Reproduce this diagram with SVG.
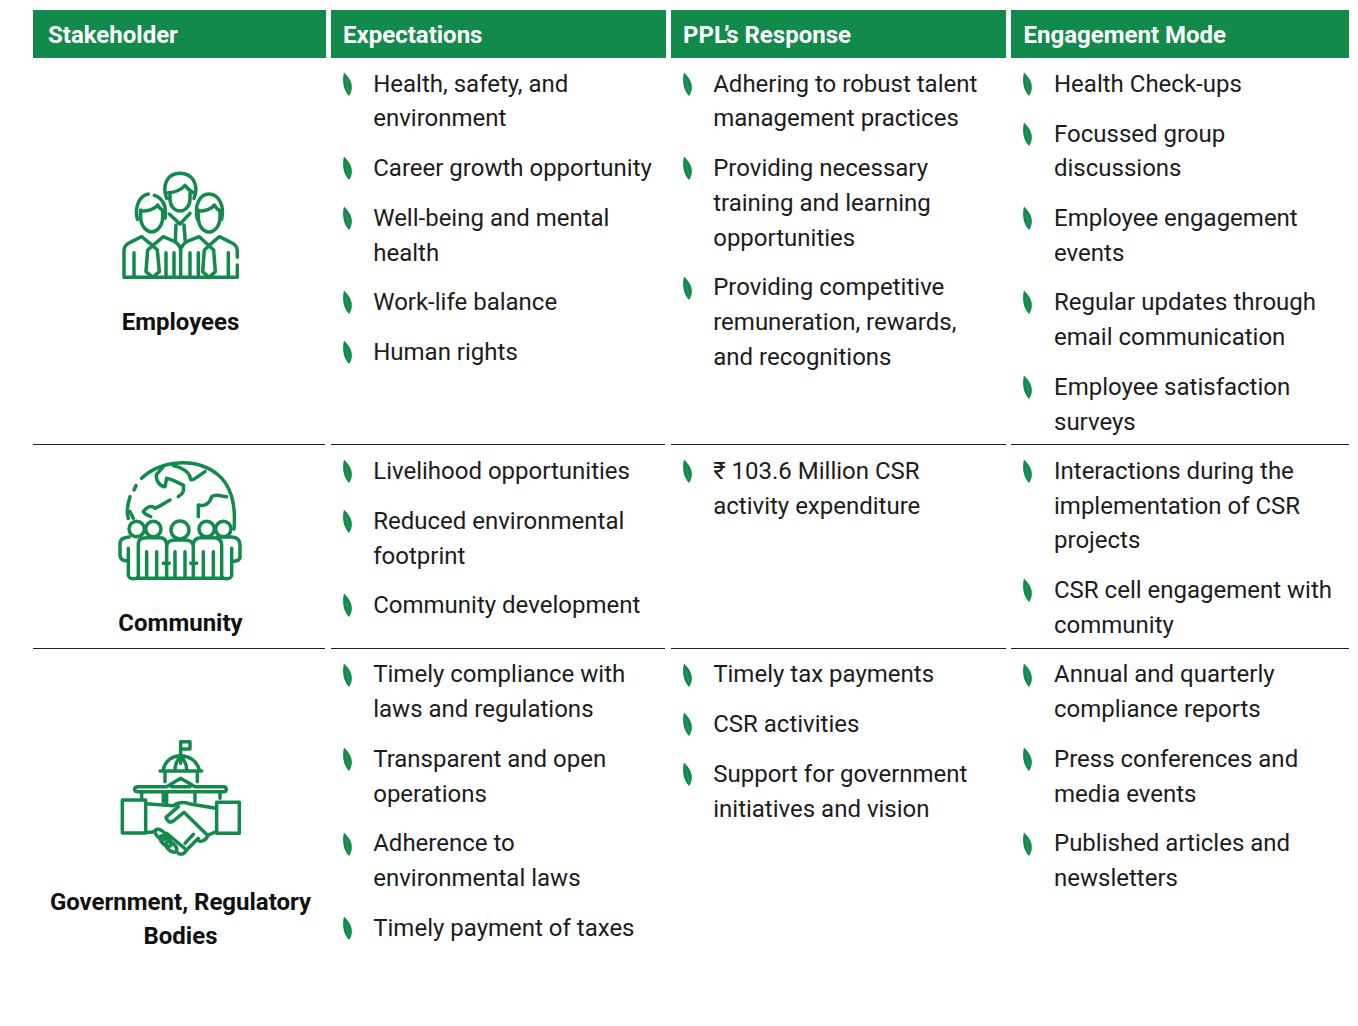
<svg xmlns="http://www.w3.org/2000/svg" width="1358" height="1026" viewBox="0 0 1358 1026">
<style>
text{font-family:Roboto,"Liberation Sans",sans-serif}
.h{font-size:24px;font-weight:700;fill:#fff}
.t{font-size:24px;fill:#1c1c1c}
.b{font-size:24px;font-weight:700;fill:#111;text-anchor:middle}
.hb{fill:#128a4b}
.r{stroke:#222;stroke-width:1.2}
.i{fill:none;stroke:#128a4b;stroke-width:10.500;stroke-linecap:round;stroke-linejoin:round}
</style>
<defs>
<g id="leaf"><path d="M-4-11.500C-6-4-5 6 1 12 5 6 6-2-4-11.500Z" fill="#128a4b"/><path d="M-2-5L1 8" stroke="#3fa673" stroke-width=".6" fill="none"/></g>
</defs>
<rect width="1358" height="1026" fill="#fff"/>
<g id="header">
<rect class="hb" x="33" y="10" width="293" height="48"/><text class="h" x="48" y="43">Stakeholder</text>
<rect class="hb" x="331" y="10" width="335" height="48"/><text class="h" x="343" y="43">Expectations</text>
<rect class="hb" x="671" y="10" width="335" height="48"/><text class="h" x="683" y="43">PPL<tspan dx="-3">’</tspan><tspan dx="-1">s</tspan> Response</text>
<rect class="hb" x="1011" y="10" width="338" height="48"/><text class="h" x="1023.500" y="43">Engagement Mode</text>
</g>
<g id="rules">
<path class="r" d="M33 444.500H325M331 444.500H665M671 444.500H1006M1011 444.500H1349M33 648.500H325M331 648.500H665M671 648.500H1006M1011 648.500H1349"/>
</g>
<g id="employees">
<g transform="translate(110 160) scale(.3333)">
<path class="i" d="M170 115C155 75 172 40 210 40S268 75 252 115M175 98C195 98 215 88 225 76 232 86 240 94 250 98M180 100V118C180 140 195 153 210 153S240 140 240 118V100"/>
<path class="i" d="M178 162L210 192 240 160M198 195L196 245M222 195L226 245"/>
<path class="i" d="M82 178C72 135 92 106 115 102M133 106C155 113 172 135 165 175M92 152C115 155 135 147 143 135 148 145 155 150 160 152M92 150V172C92 198 110 216 125 216S158 198 158 172V152"/>
<path class="i" d="M262 178C252 135 270 102 297 102S345 135 335 178M265 152C285 155 305 147 313 135 318 145 325 150 330 152M265 150V172C265 198 280 216 297 216S330 198 330 172V152"/>
<path class="i" d="M42 352V272C42 258 52 250 65 245L95 230 128 257 160 230 190 243C205 250 212 260 212 275V352M212 275C212 260 220 250 235 243L268 230 297 257 328 230 358 245C372 250 382 258 382 272V292M382 315V352M42 352H382"/>
<path class="i" d="M72 352V278M168 352V278M192 352V278M240 352V278M265 352V278M355 352V278"/>
<path class="i" d="M128 257L113 270 108 335 128 352 148 335 142 270ZM297 257L283 270 278 335 297 352 316 335 311 270Z"/>
</g>
<text class="b" x="180.500" y="330">Employees</text>
</g>
<g id="community">
<g transform="translate(110 455) scale(.3333)">
<path class="i" d="M55 190C50 175 52 150 60 125M72 105L78 92M95 70C150 15 260 5 325 60 365 95 378 150 372 222"/>
<path class="i" d="M190 32C215 38 235 50 240 65 240 85 255 70 285 50M160 35L140 58C135 75 150 95 165 95L170 70C195 75 205 85 220 90 222 110 220 115 205 125M180 135C165 142 150 155 135 160 125 150 110 155 100 170 105 180 115 180 122 185"/>
<path class="i" d="M265 185V150C285 155 300 145 305 125 320 115 335 125 350 125M60 170L70 190"/>
<circle class="i" cx="80" cy="222" r="23"/><circle class="i" cx="130" cy="222" r="23"/><circle class="i" cx="210" cy="225" r="27"/><circle class="i" cx="290" cy="222" r="23"/><circle class="i" cx="340" cy="222" r="23"/>
<path class="i" d="M55 318C40 318 30 312 30 300V265C30 252 42 247 58 246M85 370V265C85 252 98 248 110 248H150C165 248 170 258 170 272V370M170 275C170 262 180 255 195 255H225C240 255 250 262 250 275V370M250 270C250 255 258 248 275 248H310C325 248 335 255 335 270V370M322 246H365C380 247 390 255 390 270V305C390 315 380 320 365 318M55 280V360C55 375 85 375 85 360M110 290V370M140 290V370M195 290V370M225 290V370M280 290V370M310 290V370M365 280V360C365 375 335 375 335 360M85 370H165M175 370H245M255 370H335M160 325H178M242 325H260"/>
</g>
<text class="b" x="180.500" y="631">Community</text>
</g>
<g id="government">
<g transform="translate(110 735) scale(.3333)">
<path class="i" d="M212 85V20H240V42H212"/>
<path class="i" d="M150 108H275M160 105C165 75 190 62 212 62S260 75 268 105M195 105C195 85 205 70 212 65 220 72 230 85 230 105M165 108V140M262 108V140"/>
<path class="i" d="M170 155L212 130 255 155H340C352 155 352 170 340 170H85C70 170 70 155 85 155H170M170 170V205M255 170V200M95 170V190M330 170V190M185 155H240M160 175V200"/>
<path class="i" d="M37 195H107V294H37ZM320 202H388V295H320Z"/>
<path class="i" d="M107 206L190 212M245 208L318 220M190 212C205 200 225 200 245 208M205 215L168 247C172 260 180 265 190 258L222 232 294 302C285 320 270 322 262 315M265 310L235 340M250 298L225 325M230 345C222 358 215 360 205 355M107 292H125L140 285M295 300L320 290"/>
<ellipse class="i" cx="152" cy="298" rx="20" ry="11" transform="rotate(40 152 298)"/>
<ellipse class="i" cx="167" cy="318" rx="20" ry="11" transform="rotate(40 167 318)"/>
<ellipse class="i" cx="184" cy="336" rx="20" ry="11" transform="rotate(40 184 336)"/>
<path class="i" d="M170 295L230 345"/>
</g>
<text class="b" x="180.500" y="910">Government, Regulatory</text>
<text class="b" x="180.500" y="944">Bodies</text>
</g>
<g id="col-expectations">
<use href="#leaf" x="348" y="84"/><use href="#leaf" x="348" y="168"/><use href="#leaf" x="348" y="218"/><use href="#leaf" x="348" y="302"/><use href="#leaf" x="348" y="352"/>
<use href="#leaf" x="348" y="471"/><use href="#leaf" x="348" y="521"/><use href="#leaf" x="348" y="605"/>
<use href="#leaf" x="348" y="675"/><use href="#leaf" x="348" y="759"/><use href="#leaf" x="348" y="844"/><use href="#leaf" x="348" y="928"/>
<g transform="translate(-.8 -.8)">
<text class="t" x="374" y="92.500">Health, safety, and</text>
<text class="t" x="374" y="126.500">environment</text>
<text class="t" x="374" y="176.500">Career growth opportunity</text>
<text class="t" x="374" y="226.500">Well-being and mental</text>
<text class="t" x="374" y="261.500">health</text>
<text class="t" x="374" y="310.500">Work-life balance</text>
<text class="t" x="374" y="360.500">Human rights</text>
<text class="t" x="374" y="479.500">Livelihood opportunities</text>
<text class="t" x="374" y="529.500">Reduced environmental</text>
<text class="t" x="374" y="564.500">footprint</text>
<text class="t" x="374" y="613.500">Community development</text>
<text class="t" x="374" y="682.500">Timely compliance with</text>
<text class="t" x="374" y="717.500">laws and regulations</text>
<text class="t" x="374" y="767.500">Transparent and open</text>
<text class="t" x="374" y="802.500">operations</text>
<text class="t" x="374" y="851.500">Adherence to</text>
<text class="t" x="374" y="886.500">environmental laws</text>
<text class="t" x="374" y="936.500">Timely payment of taxes</text>
</g>
</g>
<g id="col-response">
<use href="#leaf" x="688" y="84"/><use href="#leaf" x="688" y="168"/><use href="#leaf" x="688" y="288"/>
<use href="#leaf" x="688" y="471"/>
<use href="#leaf" x="688" y="675"/><use href="#leaf" x="688" y="724"/><use href="#leaf" x="688" y="774"/>
<g transform="translate(-.8 -.8)">
<text class="t" x="714" y="92.500">Adhering to robust talent</text>
<text class="t" x="714" y="126.500">management practices</text>
<text class="t" x="714" y="176.500">Providing necessary</text>
<text class="t" x="714" y="211.500">training and learning</text>
<text class="t" x="714" y="246.500">opportunities</text>
<text class="t" x="714" y="295.500">Providing competitive</text>
<text class="t" x="714" y="330.500">remuneration, rewards,</text>
<text class="t" x="714" y="365.500">and recognitions</text>
<text class="t" x="714" y="479.500">₹ 103.6 Million CSR</text>
<text class="t" x="714" y="514.500">activity expenditure</text>
<text class="t" x="714" y="682.500">Timely tax payments</text>
<text class="t" x="714" y="732.500">CSR activities</text>
<text class="t" x="714" y="782.500">Support for government</text>
<text class="t" x="714" y="817.500">initiatives and vision</text>
</g>
</g>
<g id="col-engagement">
<use href="#leaf" x="1028" y="84"/><use href="#leaf" x="1028" y="134"/><use href="#leaf" x="1028" y="218"/><use href="#leaf" x="1028" y="302"/><use href="#leaf" x="1028" y="387"/>
<use href="#leaf" x="1028" y="471"/><use href="#leaf" x="1028" y="590"/>
<use href="#leaf" x="1028" y="675"/><use href="#leaf" x="1028" y="759"/><use href="#leaf" x="1028" y="844"/>
<g transform="translate(0 -.8)">
<text class="t" x="1054" y="92.500">Health Check-ups</text>
<text class="t" x="1054" y="142.500">Focussed group</text>
<text class="t" x="1054" y="176.500">discussions</text>
<text class="t" x="1054" y="226.500">Employee engagement</text>
<text class="t" x="1054" y="261.500">events</text>
<text class="t" x="1054" y="310.500">Regular updates through</text>
<text class="t" x="1054" y="345.500">email communication</text>
<text class="t" x="1054" y="395.500">Employee satisfaction</text>
<text class="t" x="1054" y="430.500">surveys</text>
<text class="t" x="1054" y="479.500">Interactions during the</text>
<text class="t" x="1054" y="514.500">implementation of CSR</text>
<text class="t" x="1054" y="548.500">projects</text>
<text class="t" x="1054" y="598.500">CSR cell engagement with</text>
<text class="t" x="1054" y="633.500">community</text>
<text class="t" x="1054" y="682.500">Annual and quarterly</text>
<text class="t" x="1054" y="717.500">compliance reports</text>
<text class="t" x="1054" y="767.500">Press conferences and</text>
<text class="t" x="1054" y="802.500">media events</text>
<text class="t" x="1054" y="851.500">Published articles and</text>
<text class="t" x="1054" y="886.500">newsletters</text>
</g>
</g>
</svg>
